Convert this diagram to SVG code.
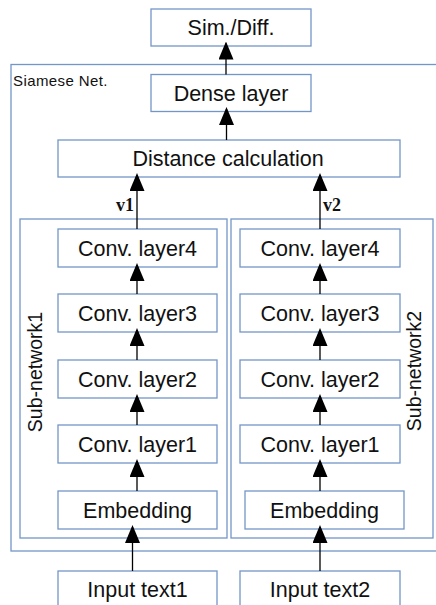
<svg xmlns="http://www.w3.org/2000/svg" width="436" height="605" viewBox="0 0 436 605">
<defs>
<style>
.box{fill:#fff;stroke:#7396c8;stroke-width:1.3}
.grp{fill:none;stroke:#7396c8;stroke-width:1.3}
.t{font-family:"Liberation Sans",Arial,sans-serif;font-size:21.5px;fill:#111;text-anchor:middle}
.lbl{font-family:"Liberation Sans",Arial,sans-serif;font-size:19.5px;fill:#111;text-anchor:middle}
.small{font-family:"Liberation Sans",Arial,sans-serif;font-size:15px;fill:#111;letter-spacing:0.4px}
.v{font-family:"Liberation Serif","Times New Roman",serif;font-size:18px;font-weight:bold;fill:#111}
.edge{stroke:#000;stroke-width:1.3;fill:none;marker-end:url(#ah)}
</style>
<marker id="ah" viewBox="0 0 18 15" refX="16" refY="7.5" markerWidth="18" markerHeight="15" markerUnits="userSpaceOnUse" orient="auto">
<path d="M0,0 L18,7.5 L0,15 Z" fill="#000"/>
</marker>
</defs>
<rect width="436" height="605" fill="#fff"/>
<g id="siamese">
<rect class="grp" x="11" y="64.5" width="430" height="486.5"/>
<text class="small" x="13" y="86">Siamese Net.</text>
</g>
<g id="subnetwork1">
<rect class="grp" x="20" y="219" width="207" height="319"/>
<text class="lbl" x="41.5" y="372" transform="rotate(-90 41.5 372)">Sub-network1</text>
</g>
<g id="subnetwork2">
<rect class="grp" x="231" y="219" width="202" height="319"/>
<text class="lbl" x="420.5" y="371" transform="rotate(-90 420.5 371)">Sub-network2</text>
</g>
<g id="simdiff"><rect class="box" x="151" y="9" width="160" height="37"/><text class="t" x="231" y="35">Sim./Diff.</text></g>
<g id="dense"><rect class="box" x="151" y="74.5" width="160" height="37"/><text class="t" x="231" y="100.5">Dense layer</text></g>
<g id="distance"><rect class="box" x="58" y="140" width="342" height="37"/><text class="t" x="228" y="166">Distance calculation</text></g>
<g id="conv4a"><rect class="box" x="58" y="229" width="159" height="38"/><text class="t" x="137.5" y="255.5">Conv. layer4</text></g>
<g id="conv3a"><rect class="box" x="58" y="294" width="159" height="38"/><text class="t" x="137.5" y="320.5">Conv. layer3</text></g>
<g id="conv2a"><rect class="box" x="58" y="360" width="159" height="38"/><text class="t" x="137.5" y="386.5">Conv. layer2</text></g>
<g id="conv1a"><rect class="box" x="58" y="425" width="159" height="38"/><text class="t" x="137.5" y="451.5">Conv. layer1</text></g>
<g id="embeda"><rect class="box" x="58" y="491" width="159" height="38"/><text class="t" x="137.5" y="517.5">Embedding</text></g>
<g id="conv4b"><rect class="box" x="240" y="229" width="160" height="38"/><text class="t" x="320" y="255.5">Conv. layer4</text></g>
<g id="conv3b"><rect class="box" x="240" y="294" width="160" height="38"/><text class="t" x="320" y="320.5">Conv. layer3</text></g>
<g id="conv2b"><rect class="box" x="240" y="360" width="160" height="38"/><text class="t" x="320" y="386.5">Conv. layer2</text></g>
<g id="conv1b"><rect class="box" x="240" y="425" width="160" height="38"/><text class="t" x="320" y="451.5">Conv. layer1</text></g>
<g id="embedb"><rect class="box" x="245" y="491" width="159" height="38"/><text class="t" x="324.5" y="517.5">Embedding</text></g>
<g id="input1"><rect class="box" x="58" y="571" width="159" height="40"/><text class="t" x="137.5" y="597">Input text1</text></g>
<g id="input2"><rect class="box" x="240" y="571" width="160" height="40"/><text class="t" x="320" y="597">Input text2</text></g>
<g id="connectors">
<line class="edge" x1="226" y1="74.5" x2="226" y2="43.5"/>
<line class="edge" x1="226.5" y1="140" x2="226.5" y2="109"/>
<line class="edge" x1="137" y1="229" x2="137" y2="175"/>
<line class="edge" x1="320" y1="229" x2="320" y2="175"/>
<line class="edge" x1="137" y1="294" x2="137" y2="265"/>
<line class="edge" x1="137" y1="360" x2="137" y2="330"/>
<line class="edge" x1="137" y1="425" x2="137" y2="396"/>
<line class="edge" x1="137" y1="491" x2="137" y2="461"/>
<line class="edge" x1="132.5" y1="571" x2="132.5" y2="527"/>
<line class="edge" x1="320" y1="294" x2="320" y2="265"/>
<line class="edge" x1="320" y1="360" x2="320" y2="330"/>
<line class="edge" x1="320" y1="425" x2="320" y2="396"/>
<line class="edge" x1="320" y1="491" x2="320" y2="461"/>
<line class="edge" x1="320" y1="571" x2="320" y2="527"/>
<text class="v" x="134" y="211" text-anchor="end">v1</text>
<text class="v" x="323" y="211">v2</text>
</g>
</svg>
